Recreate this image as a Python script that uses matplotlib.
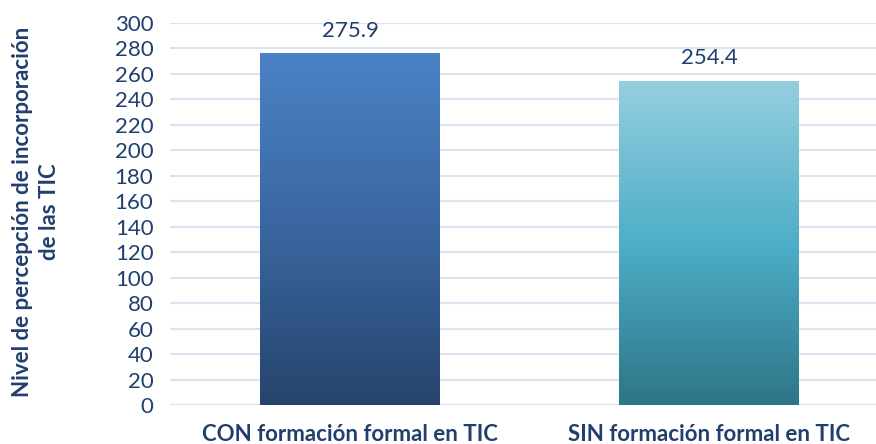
import numpy as np
import matplotlib.pyplot as plt
from matplotlib.colors import LinearSegmentedColormap

categories = ["CON formación formal en TIC", "SIN formación formal en TIC"]
values = [275.9, 254.4]
labels = ["275.9", "254.4"]
yticks = list(range(0, 301, 20))

bar_colors = [
    ["#26446c", "#3a66a0", "#4a82c6"],
    ["#2d7587", "#4eaec8", "#95cede"],
]
text_color = "#203f6c"

plt.rcParams["font.family"] = ["Lato", "DejaVu Sans"]

fig = plt.figure(figsize=(8.76, 4.44), dpi=100)
ax = fig.add_axes([170 / 876, 39 / 444, 706 / 876, 382 / 444])

width = 0.5
for i, (v, cols) in enumerate(zip(values, bar_colors)):
    cmap = LinearSegmentedColormap.from_list(f"g{i}", cols)
    grad = np.linspace(0, 1, 256).reshape(-1, 1)
    ax.imshow(grad, cmap=cmap, origin="lower", aspect="auto",
              extent=(i - width / 2, i + width / 2, 0, v), zorder=2)
    ax.text(i, v + 10, labels[i], ha="center", va="bottom",
            fontsize=16, color=text_color)

xmin = -180 / 359
ax.set_xlim(xmin, xmin + 706 / 359)
ax.set_ylim(0, 300)
ax.set_yticks(yticks)
ax.set_xticks(range(len(categories)))
ax.set_xticklabels(categories, fontsize=16, fontweight="bold", color=text_color)
ax.tick_params(axis="y", labelsize=16, colors=text_color, length=0, pad=12)
ax.tick_params(axis="x", length=0, pad=14)
ax.grid(axis="y", color="#d9e3f2", linewidth=1.5, zorder=0)
for s in ax.spines.values():
    s.set_visible(False)

fig.text(36 / 876, 232 / 444, "Nivel de percepción de incorporación\nde las TIC",
         rotation=90, ha="center", va="center", fontsize=16,
         fontweight="bold", color=text_color, linespacing=1.4)

fig.savefig("out.png", dpi=100)
